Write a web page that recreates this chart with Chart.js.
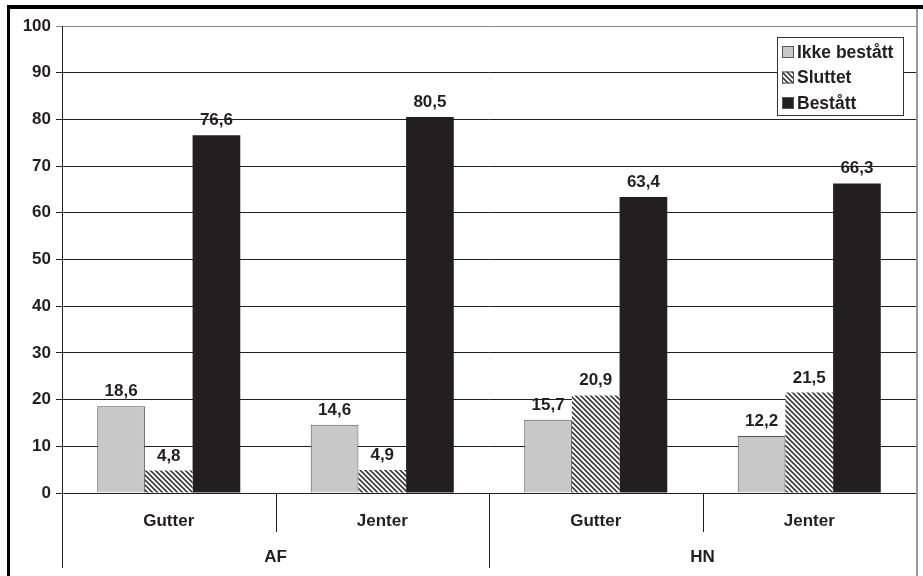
<!DOCTYPE html>
<html>
<head>
<meta charset="utf-8">
<script src="https://cdn.jsdelivr.net/npm/chart.js@4.4.1/dist/chart.umd.min.js"></script>
<style>
  html, body { margin: 0; padding: 0; background: #fff; }
  #wrap { width: 923px; height: 576px; }
</style>
</head>
<body>
<div id="wrap"><canvas id="chart" width="923" height="576"></canvas></div>
<script>
// --- data ---
const subLabels = ['Gutter', 'Jenter', 'Gutter', 'Jenter'];
const groupLabels = ['AF', 'HN'];
const ikkeBestatt = [18.6, 14.6, 15.7, 12.2];
const sluttet = [4.8, 4.9, 20.9, 21.5];
const bestatt = [76.6, 80.5, 63.4, 66.3];
const seriesNames = ['Ikke bestått', 'Sluttet', 'Bestått'];

const FONT = "'Liberation Sans', Arial, sans-serif";
const INK = '#231f20';

// skravert mønster for "Sluttet"
function makeHatch(size) {
    const c = document.createElement('canvas');
    c.width = size; c.height = size;
    const g = c.getContext('2d');
    g.fillStyle = '#fff';
    g.fillRect(0, 0, size, size);
    g.strokeStyle = '#3a3a3a';
    g.lineWidth = 1.6;
    g.beginPath();
    g.moveTo(-1, -1); g.lineTo(size + 1, size + 1);
    g.moveTo(-1, size - 1); g.lineTo(1, size + 1);
    g.moveTo(size - 1, -1); g.lineTo(size + 1, 1);
    g.stroke();
    return g.createPattern(c, 'repeat');
}

const ctx = document.getElementById('chart').getContext('2d');
const hatch = makeHatch(5);

// verdier over søylene (tegnes før rutenettet slik som i originalen)
const valueLabels = {
    id: 'valueLabels',
    beforeDraw(chart) {
        const c = chart.ctx;
        c.save();
        c.font = 'bold 17px ' + FONT;
        c.fillStyle = INK;
        c.textAlign = 'center';
        c.textBaseline = 'alphabetic';
        chart.data.datasets.forEach((ds, i) => {
            chart.getDatasetMeta(i).data.forEach((bar, j) => {
                const txt = ds.data[j].toFixed(1).replace('.', ',');
                c.fillText(txt, bar.x, bar.y - 10);
            });
        });
        c.restore();
    }
};

// x-aksen i to nivåer + legende + ramme
const decorations = {
    id: 'decorations',
    afterDraw(chart) {
        const c = chart.ctx;
        const area = chart.chartArea;
        const x = chart.scales.x;
        const step = (area.right - area.left) / subLabels.length;
        c.save();

        // underkategorier
        c.strokeStyle = INK;
        c.lineWidth = 1;
        c.fillStyle = INK;
        c.font = 'bold 17px ' + FONT;
        c.textAlign = 'center';
        c.textBaseline = 'middle';
        subLabels.forEach((lab, i) => {
            c.fillText(lab, x.getPixelForValue(i), area.bottom + 28);
        });
        for (let i = 1; i < subLabels.length; i += 2) {
            const px = Math.round(area.left + step * i) + 0.5;
            c.beginPath();
            c.moveTo(px, area.bottom);
            c.lineTo(px, area.bottom + 39);
            c.stroke();
        }
        // hovedgrupper
        groupLabels.forEach((lab, g) => {
            c.fillText(lab, area.left + step * (2 * g + 1), area.bottom + 64);
        });
        for (let i = 0; i <= subLabels.length; i += 2) {
            const px = Math.round(area.left + step * i) + 0.5;
            c.beginPath();
            c.moveTo(px, area.bottom);
            c.lineTo(px, area.bottom + 75);
            c.stroke();
        }

        // legende
        const lx = 777.5, ly = 37.5, lw = 126, lh = 78;
        c.fillStyle = '#fff';
        c.fillRect(lx, ly, lw, lh);
        c.strokeStyle = '#333';
        c.strokeRect(lx, ly, lw, lh);
        const fills = ['#c8c8c8', hatch, INK];
        c.textAlign = 'left';
        c.font = 'bold 17.5px ' + FONT;
        seriesNames.forEach((name, i) => {
            const cy = 52 + i * 25.5;
            c.fillStyle = fills[i];
            c.fillRect(782, cy - 6, 12, 12);
            c.strokeStyle = '#555';
            c.strokeRect(782.5, cy - 5.5, 11, 11);
            c.fillStyle = INK;
            c.fillText(name, 797, cy + 1);
        });

        // ytre ramme
        c.fillStyle = '#000';
        c.fillRect(7, 5, 916, 4);
        c.fillRect(7, 5, 3, 571);
        c.fillStyle = '#999';
        c.fillRect(916, 9, 2, 567);
        c.restore();
    }
};

new Chart(ctx, {
    type: 'bar',
    data: {
        labels: subLabels,
        datasets: [
            { label: seriesNames[0], data: ikkeBestatt, backgroundColor: '#c8c8c8', borderColor: '#555', borderWidth: 1 },
            { label: seriesNames[1], data: sluttet, backgroundColor: hatch, borderColor: '#777', borderWidth: 0 },
            { label: seriesNames[2], data: bestatt, backgroundColor: INK, borderColor: INK, borderWidth: 0 }
        ]
    },
    options: {
        responsive: false,
        animation: false,
        layout: { padding: { top: 26, right: 7, left: 0, bottom: 0 } },
        categoryPercentage: 0.67,
        barPercentage: 1.0,
        plugins: {
            legend: { display: false },
            tooltip: { enabled: false }
        },
        scales: {
            x: {
                grid: { display: false },
                border: { display: false },
                ticks: { display: false },
                afterFit: s => { s.height = 83; }
            },
            y: {
                min: 0,
                max: 100,
                ticks: {
                    stepSize: 10,
                    padding: 5,
                    color: INK,
                    font: { family: FONT, size: 17, weight: 'bold' }
                },
                grid: {
                    color: c => c.tick && c.tick.value === 100 ? '#888' : INK,
                    lineWidth: 1,
                    tickLength: 6
                },
                border: { color: INK, width: 1 },
                afterFit: s => { s.width = 62; }
            }
        }
    },
    plugins: [valueLabels, decorations]
});
</script>
</body>
</html>
